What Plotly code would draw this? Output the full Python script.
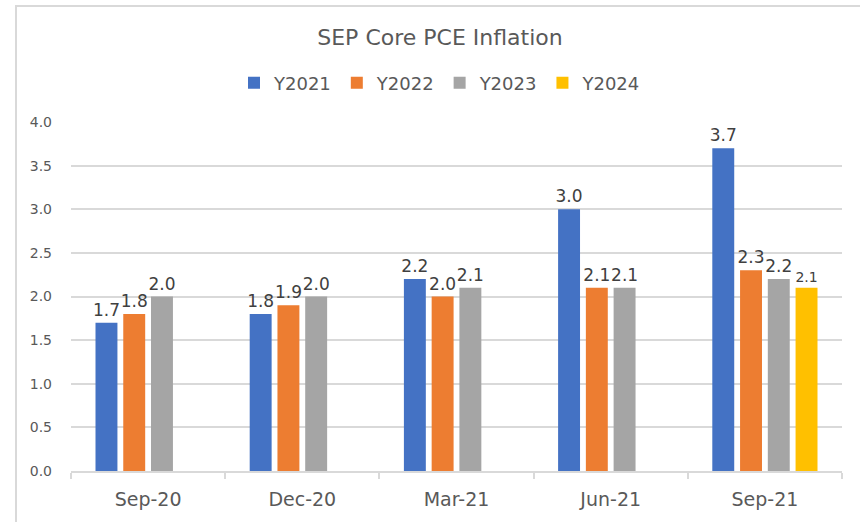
import plotly.graph_objects as go

# Projection dates of each Summary of Economic Projections release
categories = ["Sep-20", "Dec-20", "Mar-21", "Jun-21", "Sep-21"]

# Median core PCE inflation projections by target year
y2021 = [1.7, 1.8, 2.2, 3.0, 3.7]
y2022 = [1.8, 1.9, 2.0, 2.1, 2.3]
y2023 = [2.0, 2.0, 2.1, 2.1, 2.2]
y2024 = [None, None, None, None, 2.1]

series = [
    ("Y2021", y2021, "#4472C4", 17),
    ("Y2022", y2022, "#ED7D31", 17),
    ("Y2023", y2023, "#A5A5A5", 17),
    ("Y2024", y2024, "#FFC000", 14),
]

FONT = "DejaVu Sans"
TEXT = "#595959"
GRID = "#D9D9D9"

fig = go.Figure()
for name, vals, color, label_size in series:
    fig.add_trace(go.Bar(
        name=name,
        x=categories,
        y=vals,
        marker=dict(color=color, line=dict(width=0)),
        texttemplate="%{y:.1f}",
        textposition="outside",
        constraintext="none",
        cliponaxis=False,
        textfont=dict(family=FONT, size=label_size, color="#404040"),
    ))

W, H = 860, 522
ML, MR, MT, MB = 71, 18, 122, 51
pw, ph = W - ML - MR, H - MT - MB

fig.update_layout(
    width=W,
    height=H,
    margin=dict(l=ML, r=MR, t=MT, b=MB, pad=0),
    paper_bgcolor="white",
    plot_bgcolor="white",
    barmode="group",
    bargap=0.28,
    bargroupgap=0.21,
    font=dict(family=FONT, color=TEXT),
    title=dict(
        text="SEP Core PCE Inflation",
        font=dict(family=FONT, size=22, color=TEXT),
        x=440 / W,
        xref="container",
        xanchor="center",
        y=1 - 37 / H,
        yref="container",
        yanchor="middle",
    ),
    legend=dict(
        orientation="h",
        x=(440 - ML) / pw,
        xanchor="center",
        y=(H - MB - 83) / ph,
        yanchor="middle",
        font=dict(family=FONT, size=18, color=TEXT),
        bgcolor="rgba(0,0,0,0)",
        itemclick=False,
    ),
    showlegend=True,
    xaxis=dict(
        showgrid=False,
        showline=True,
        linecolor=GRID,
        linewidth=1.5,
        ticks="outside",
        tickson="boundaries",
        ticklen=6,
        tickcolor=GRID,
        tickwidth=1.5,
        tickfont=dict(family=FONT, size=19, color=TEXT),
        ticklabelstandoff=10,
    ),
    yaxis=dict(
        range=[0, 4],
        tickvals=[0, 0.5, 1.0, 1.5, 2.0, 2.5, 3.0, 3.5, 4.0],
        tickformat=".1f",
        showgrid=True,
        gridcolor=GRID,
        gridwidth=1.5,
        zeroline=False,
        showline=False,
        ticks="",
        tickfont=dict(family=FONT, size=14, color=TEXT),
        ticklabelstandoff=18,
    ),
    shapes=[
        dict(
            type="rect",
            xref="paper",
            yref="paper",
            x0=(16 - ML) / pw,
            x1=(W + 20 - ML) / pw,
            y0=(H - MB - (H + 20)) / ph,
            y1=(H - MB - 6) / ph,
            line=dict(color=GRID, width=2),
            fillcolor="rgba(0,0,0,0)",
            layer="below",
        )
    ],
)

fig.write_html("out.html")
